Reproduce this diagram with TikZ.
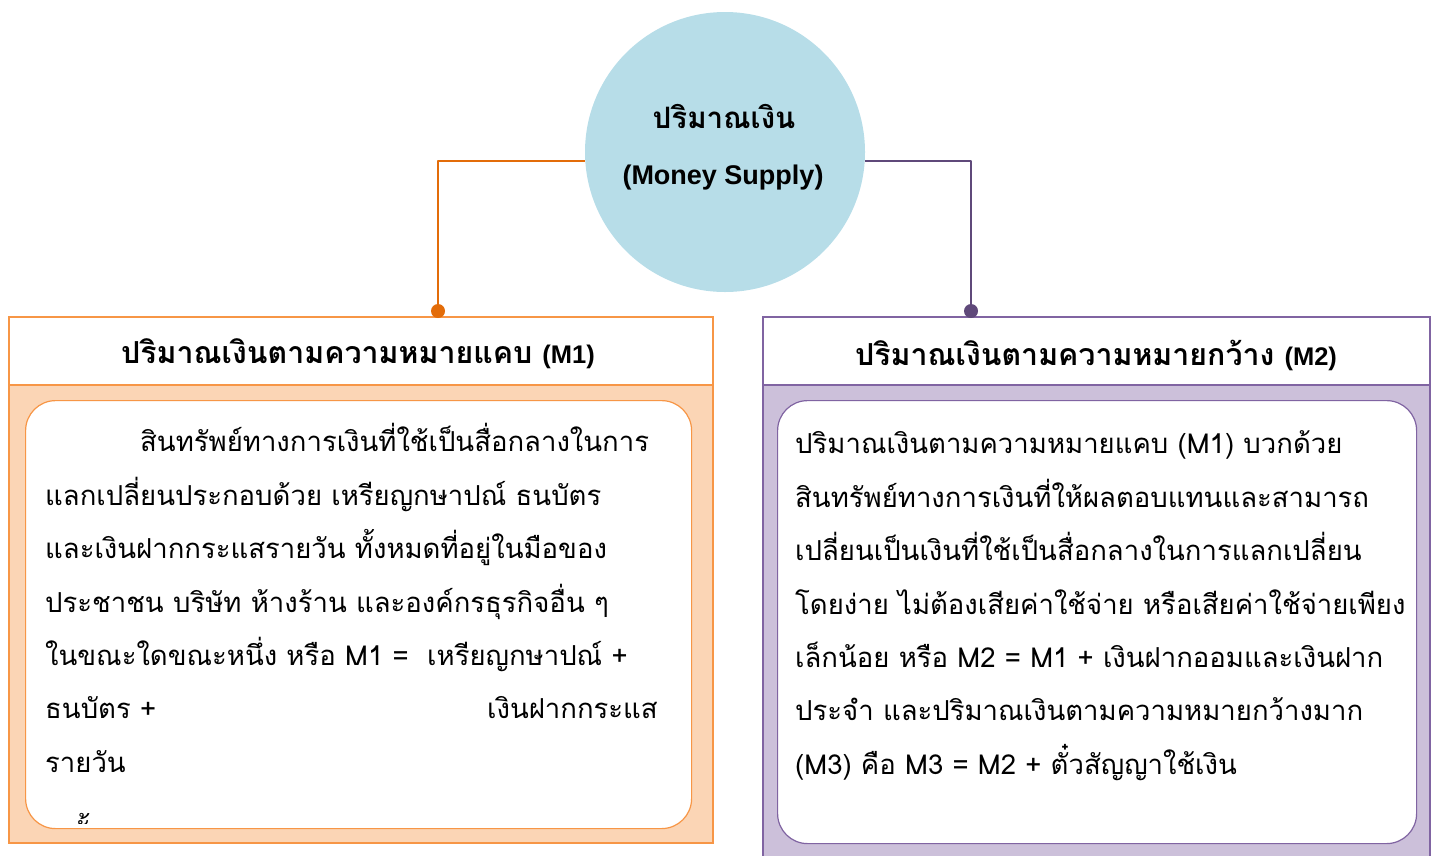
\documentclass[tikz,border=0pt]{standalone}
\usepackage{fontspec}
\setmainfont[Script=Thai]{Loma}
\newfontfamily\latinsans{Liberation Sans}
\definecolor{circfill}{HTML}{B7DDE8}
\definecolor{orline}{HTML}{E36C09}
\definecolor{orborder}{HTML}{F79646}
\definecolor{orfill}{HTML}{FBD5B5}
\definecolor{puline}{HTML}{5F497A}
\definecolor{puborder}{HTML}{8064A2}
\definecolor{pufill}{HTML}{CCC0DA}
\tikzset{
  hub/.style={circle, fill=circfill, minimum size=280pt, inner sep=0pt},
  outerbox/.style={line width=1.2pt},
  innerbox/.style={fill=white, line width=1.2pt, rounded corners=30pt},
  conn/.style={line width=2pt, line join=round},
  headtext/.style={font=\bfseries\fontsize{30.3}{32}\selectfont, anchor=base},
  bodytext/.style={font=\fontsize{27.5}{32}\selectfont, anchor=base west, inner sep=0pt},
  huetext/.style={font=\bfseries\fontsize{29.5}{32}\selectfont, anchor=base, inner sep=0pt},
}
\begin{document}
\begin{tikzpicture}[x=1pt,y=-1pt]
\useasboundingbox (0,0) rectangle (1435,855);
% left box
\fill[orfill] (9,385) rectangle (713,843);
\draw[orborder,outerbox] (9,317) rectangle (713,843);
\draw[orborder,outerbox] (9,385) -- (713,385);
\node[draw=orborder, innerbox, minimum width=666pt, minimum height=428pt, anchor=north west] (lin) at (25,400) {};
% right box
\fill[pufill] (763,385) rectangle (1430,870);
\draw[puborder,outerbox] (763,317) rectangle (1430,870);
\draw[puborder,outerbox] (763,385) -- (1430,385);
\node[draw=puborder, innerbox, minimum width=639pt, minimum height=443pt, anchor=north west] (rin) at (777,400) {};
% hub
\node[hub] (hub) at (725,152) {};
\node[huetext] (h1) at (724,128) {ปริมาณเงิน};
\node[huetext] (h2) at (723,184) {\fontsize{27}{30}\selectfont\latinsans (Money Supply)};
% connectors
\coordinate (lt) at (438,317);
\coordinate (rt) at (971,317);
\draw[orline,conn] (hub.west |- 0,161) -- (438,161) -- (lt);
\fill[orline] (lt) ++(0,-6) circle (7);
\draw[puline,conn] (hub.east |- 0,161) -- (971,161) -- (rt);
\fill[puline] (rt) ++(0,-6) circle (7);
% headers
\node[headtext] (lh) at (358,363) {ปริมาณเงินตามความหมายแคบ {\fontsize{25.5}{30}\selectfont\latinsans (M1)}};
\node[headtext] (rh) at (1096,365) {ปริมาณเงินตามความหมายกว้าง {\fontsize{25.5}{30}\selectfont\latinsans (M2)}};
% left body
\node[bodytext] (l1) at (140,451) {สินทรัพย์ทางการเงินที่ใช้เป็นสื่อกลางในการ};
\node[bodytext] (l2) at (45,505) {แลกเปลี่ยนประกอบด้วย เหรียญกษาปณ์ ธนบัตร};
\node[bodytext] (l3) at (45,558) {และเงินฝากกระแสรายวัน ทั้งหมดที่อยู่ในมือของ};
\node[bodytext] (l4) at (45,612) {ประชาชน บริษัท ห้างร้าน และองค์กรธุรกิจอื่น ๆ};
\node[bodytext] (l5) at (45,665) {ในขณะใดขณะหนึ่ง หรือ M1 =\ \ เหรียญกษาปณ์ +};
\node[bodytext] (l6a) at (45,718) {ธนบัตร +};
\node[bodytext] (l6b) at (487,718) {เงินฝากกระแส};
\node[bodytext] (l7) at (45,772) {รายวัน};
\begin{scope}
\clip (40,805) rectangle (300,823);
\node[bodytext] (l8) at (70,842) {ทั้ง};
\end{scope}
% right body
\node[bodytext] (r1) at (795,453) {ปริมาณเงินตามความหมายแคบ (M1) บวกด้วย};
\node[bodytext] (r2) at (795,507) {สินทรัพย์ทางการเงินที่ให้ผลตอบแทนและสามารถ};
\node[bodytext] (r3) at (795,560) {เปลี่ยนเป็นเงินที่ใช้เป็นสื่อกลางในการแลกเปลี่ยน};
\node[bodytext] (r4) at (795,614) {โดยง่าย ไม่ต้องเสียค่าใช้จ่าย หรือเสียค่าใช้จ่ายเพียง};
\node[bodytext] (r5) at (795,667) {เล็กน้อย หรือ M2 = M1 + เงินฝากออมและเงินฝาก};
\node[bodytext] (r6) at (795,720) {ประจำ และปริมาณเงินตามความหมายกว้างมาก};
\node[bodytext] (r7) at (795,774) {(M3) คือ M3 = M2 + ตั๋วสัญญาใช้เงิน};
\end{tikzpicture}
\end{document}
